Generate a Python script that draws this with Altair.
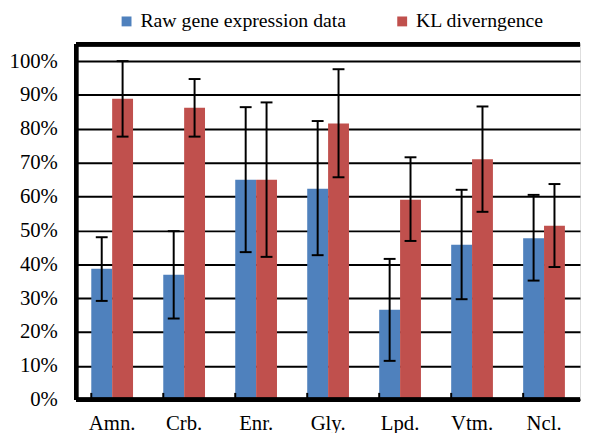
import altair as alt
import pandas as pd

categories = ["Amn.", "Crb.", "Enr.", "Gly.", "Lpd.", "Vtm.", "Ncl."]
series = ["Raw gene expression data", "KL diverngence"]

raw_val = [0.387, 0.369, 0.650, 0.623, 0.266, 0.458, 0.477]
raw_lo = [0.292, 0.240, 0.436, 0.427, 0.115, 0.297, 0.352]
raw_hi = [0.480, 0.498, 0.864, 0.823, 0.416, 0.620, 0.605]

kl_val = [0.889, 0.862, 0.650, 0.816, 0.591, 0.710, 0.514]
kl_lo = [0.777, 0.777, 0.422, 0.657, 0.469, 0.555, 0.392]
kl_hi = [1.000, 0.947, 0.878, 0.976, 0.716, 0.866, 0.637]

y_ticks = [0, 0.1, 0.2, 0.3, 0.4, 0.5, 0.6, 0.7, 0.8, 0.9, 1.0]

rows = []
for i, c in enumerate(categories):
    rows.append({"cat": c, "series": series[0], "v": raw_val[i], "lo": raw_lo[i], "hi": raw_hi[i]})
    rows.append({"cat": c, "series": series[1], "v": kl_val[i], "lo": kl_lo[i], "hi": kl_hi[i]})
df = pd.DataFrame(rows)
cat_df = pd.DataFrame({"cat": categories})

FONT = "Liberation Serif"
W, H = 510, 360

xscale = alt.Scale(domain=categories, paddingInner=0.42, paddingOuter=0.21)
xoff = alt.XOffset("series:N", scale=alt.Scale(domain=series, paddingInner=0, paddingOuter=0))
yscale = alt.Scale(domain=[0, 1.05], nice=False)

X_AXIS = alt.Axis(title=None, labelAngle=0, ticks=False, domain=False,
                  labelFont=FONT, labelFontSize=21, labelColor="black",
                  labelPadding=13)
Y_AXIS = alt.Axis(title=None, values=y_ticks, format=".0%", grid=True,
                  gridColor="black", gridWidth=2, gridOpacity=1,
                  ticks=False, domain=False, labelFont=FONT,
                  labelFontSize=21, labelColor="black", labelPadding=19,
                  labelOverlap=False)

base = alt.Chart(df)

bars = base.mark_bar(opacity=1).encode(
    x=alt.X("cat:N", scale=xscale, sort=categories, axis=X_AXIS),
    xOffset=xoff,
    y=alt.Y("v:Q", scale=yscale, axis=Y_AXIS),
    color=alt.Color("series:N",
                    scale=alt.Scale(domain=series, range=["#4F81BD", "#C0504D"]),
                    legend=alt.Legend(title=None, orient="none", legendX=41, legendY=-33,
                                      direction="horizontal", symbolType="square",
                                      symbolSize=100, symbolStrokeWidth=0,
                                      symbolOpacity=1, labelLimit=0,
                                      labelFont=FONT, labelFontSize=20,
                                      labelColor="black", columnPadding=46,
                                      labelOffset=4)),
)

err = base.mark_rule(color="black", strokeWidth=2).encode(
    x=alt.X("cat:N", scale=xscale, sort=categories, axis=X_AXIS),
    xOffset=xoff,
    y=alt.Y("lo:Q", scale=yscale, axis=Y_AXIS),
    y2="hi:Q",
)

cap_lo = base.mark_tick(color="black", thickness=2, size=12, opacity=1).encode(
    x=alt.X("cat:N", scale=xscale, sort=categories, axis=X_AXIS),
    xOffset=xoff,
    y=alt.Y("lo:Q", scale=yscale, axis=Y_AXIS),
)
cap_hi = base.mark_tick(color="black", thickness=2, size=12, opacity=1).encode(
    x=alt.X("cat:N", scale=xscale, sort=categories, axis=X_AXIS),
    xOffset=xoff,
    y=alt.Y("hi:Q", scale=yscale, axis=Y_AXIS),
)

xticks = alt.Chart(cat_df).mark_rule(color="black", strokeWidth=2).encode(
    x=alt.X("cat:N", scale=xscale, sort=categories, bandPosition=0, axis=X_AXIS),
    y=alt.value(H),
    y2=alt.value(H - 7),
)

left_dom = alt.Chart(cat_df).mark_rule(color="black", strokeWidth=4).encode(
    x=alt.value(0), y=alt.value(0), y2=alt.value(H))
bottom_dom = alt.Chart(cat_df).mark_rule(color="black", strokeWidth=4).encode(
    x=alt.value(0), x2=alt.value(W), y=alt.value(H))
top_dom = alt.Chart(cat_df).mark_rule(color="black", strokeWidth=4).encode(
    x=alt.value(0), x2=alt.value(W), y=alt.value(0))

chart = alt.layer(bars, err, cap_lo, cap_hi, xticks, left_dom, bottom_dom, top_dom).properties(
    width=W, height=H,
    autosize=alt.AutoSizeParams(type="none"),
    padding={"left": 69, "top": 34, "right": 2, "bottom": 31},
).configure_view(stroke="black", strokeWidth=3).configure_axis(
    labelOverlap=False
).configure(background="white")

chart.save("out.html", embed_options={"renderer": "svg", "actions": False})
